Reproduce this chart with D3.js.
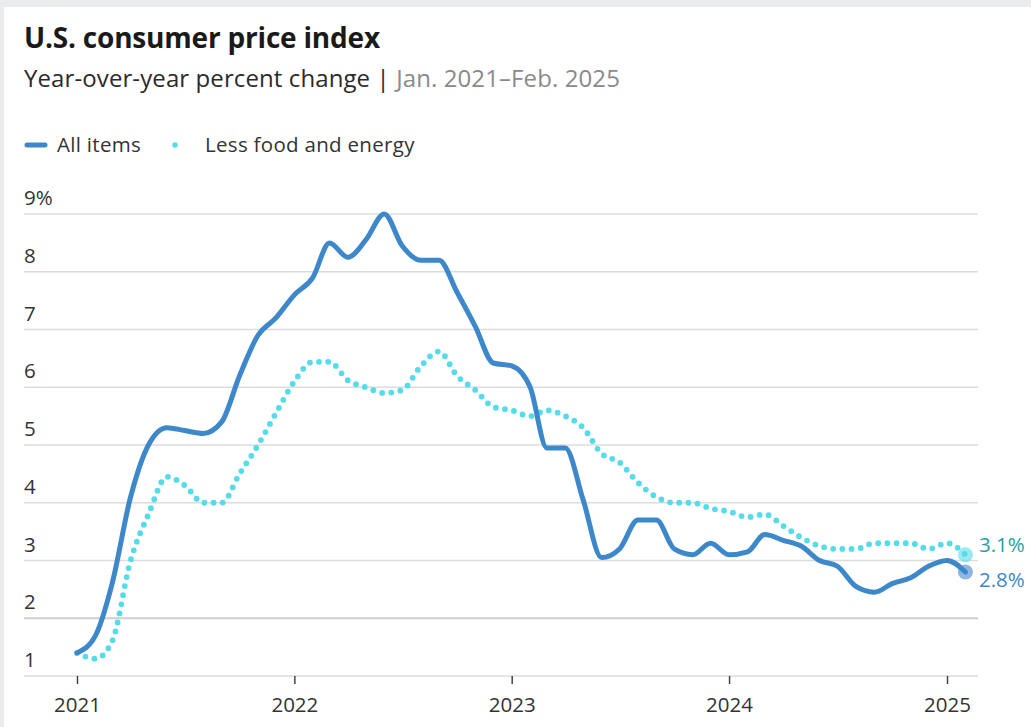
<!DOCTYPE html>
<html>
<head>
<meta charset="utf-8">
<script src="https://cdn.jsdelivr.net/npm/d3@7"></script>
<style>
  body { margin: 0; background: #ebecee; }
  svg { display: block; }
  text { font-family: "Open Sans", Lato, sans-serif; }
</style>
</head>
<body>
<svg id="chart" width="1031" height="727"></svg>
<script>
// months Jan 2021 .. Feb 2025
var months = d3.timeMonths(new Date(2021, 0, 1), new Date(2025, 2, 1));

var allItems = [
  1.4, 1.7, 2.6, 4.1, 5.0, 5.3, 5.25, 5.2, 5.4, 6.2, 6.9, 7.2,
  7.6, 7.9, 8.5, 8.25, 8.55, 9.0, 8.45, 8.2, 8.2, 7.65, 7.05, 6.42,
  6.37, 6.0, 4.95, 4.95, 4.05, 3.05, 3.2, 3.7, 3.7, 3.2, 3.1, 3.3,
  3.1, 3.15, 3.45, 3.35, 3.25, 3.0, 2.9, 2.55, 2.45, 2.6, 2.7, 2.9,
  3.0, 2.8
];
var lessFoodEnergy = [
  1.4, 1.3, 1.6, 3.0, 3.8, 4.45, 4.3, 4.0, 4.0, 4.5, 5.0, 5.55,
  6.1, 6.44, 6.44, 6.12, 6.0, 5.9, 5.95, 6.36, 6.62, 6.2, 5.95, 5.66,
  5.6, 5.5, 5.6, 5.5, 5.3, 4.85, 4.7, 4.35, 4.1, 4.0, 4.0, 3.9,
  3.85, 3.75, 3.8, 3.6, 3.4, 3.25, 3.2, 3.2, 3.3, 3.3, 3.3, 3.2,
  3.3, 3.1
];
var yTicks = [1, 2, 3, 4, 5, 6, 7, 8, 9];
var xTickYears = [2021, 2022, 2023, 2024, 2025];

var blue = "#3d87cb", cyan = "#55dbe9", teal = "#26a0a0";

var svg = d3.select("#chart");

// white card
svg.append("rect").attr("x", 4).attr("y", 7).attr("width", 1027).attr("height", 720).attr("fill", "#fff");

svg.append("text").attr("x", 24).attr("y", 48)
  .attr("font-size", 28).attr("font-weight", 700).attr("fill", "#1a1a1a")
  .attr("letter-spacing", -0.2)
  .text("U.S. consumer price index");

var sub = svg.append("text").attr("x", 24).attr("y", 87).attr("font-size", 24)
  .attr("letter-spacing", 0.1).attr("fill", "#2b2b2b");
sub.append("tspan").text("Year-over-year percent change | ");
sub.append("tspan").attr("fill", "#8a8a8a").text("Jan. 2021–Feb. 2025");

// legend
var lg = svg.append("g").attr("transform", "translate(0,145)");
lg.append("line").attr("x1", 27).attr("x2", 45).attr("y1", 0).attr("y2", 0)
  .attr("stroke", blue).attr("stroke-width", 5).attr("stroke-linecap", "round");
lg.append("text").attr("x", 57).attr("y", 7).attr("font-size", 20.5).attr("letter-spacing", 0.3)
  .attr("fill", "#333").text("All items");
lg.append("line").attr("x1", 175).attr("x2", 185).attr("y1", 0).attr("y2", 0)
  .attr("stroke", cyan).attr("stroke-width", 5.5).attr("stroke-linecap", "round")
  .attr("stroke-dasharray", "0,10");
lg.append("text").attr("x", 205).attr("y", 7).attr("font-size", 20.5).attr("letter-spacing", 0.3)
  .attr("fill", "#333").text("Less food and energy");

// scales
var x = d3.scaleTime()
  .domain([new Date(2021, 0, 1), new Date(2025, 0, 1)])
  .range([77, 947]);
var y = d3.scaleLinear().domain([1, 9]).range([676, 214]);

// grid + y labels
var grid = svg.append("g");
grid.selectAll("line").data(yTicks).enter().append("line")
  .attr("x1", 24).attr("x2", 978)
  .attr("y1", function(d) { return y(d); }).attr("y2", function(d) { return y(d); })
  .attr("stroke", function(d) { return d === 2 ? "#cfcfcf" : "#dcdcdc"; })
  .attr("stroke-width", function(d) { return d === 2 ? 1.8 : 1.4; });
grid.selectAll("text").data(yTicks).enter().append("text")
  .attr("x", 24).attr("y", function(d) { return y(d) - 9; })
  .attr("font-size", 20.5).attr("fill", "#333")
  .text(function(d) { return d === 9 ? "9%" : d; });

// x axis
var xAxis = d3.axisBottom(x)
  .tickValues(xTickYears.map(function(yr) { return new Date(yr, 0, 1); }))
  .tickFormat(d3.timeFormat("%Y"))
  .tickSize(8).tickPadding(13);
var ax = svg.append("g").attr("transform", "translate(0," + y(1) + ")").call(xAxis);
ax.select(".domain").remove();
ax.selectAll(".tick line").attr("stroke", "#444").attr("stroke-width", 1.5);
ax.selectAll(".tick text").attr("font-size", 20.5).attr("fill", "#333")
  .attr("font-family", "'Open Sans', sans-serif");

var line = d3.line()
  .x(function(d, i) { return x(months[i]); })
  .y(function(d) { return y(d); })
  .curve(d3.curveMonotoneX);

svg.append("path").datum(lessFoodEnergy).attr("d", line)
  .attr("fill", "none").attr("stroke", cyan).attr("stroke-width", 5.8)
  .attr("stroke-linecap", "round").attr("stroke-dasharray", "0,9.2");

svg.append("path").datum(allItems).attr("d", line)
  .attr("fill", "none").attr("stroke", blue).attr("stroke-width", 5)
  .attr("stroke-linecap", "round").attr("stroke-linejoin", "round");

// end markers
var last = months.length - 1;
svg.append("circle").attr("cx", x(months[last])).attr("cy", y(lessFoodEnergy[last]))
  .attr("r", 7.5).attr("fill", cyan).attr("opacity", 0.6);
svg.append("circle").attr("cx", x(months[last])).attr("cy", y(allItems[last]))
  .attr("r", 7.5).attr("fill", blue).attr("opacity", 0.6);
svg.append("text").attr("x", 979).attr("y", y(lessFoodEnergy[last]) - 3)
  .attr("font-size", 20.5).attr("fill", teal).text(lessFoodEnergy[last].toFixed(1) + "%");
svg.append("text").attr("x", 979).attr("y", y(allItems[last]) + 15)
  .attr("font-size", 20.5).attr("fill", blue).text(allItems[last].toFixed(1) + "%");
</script>
</body>
</html>
